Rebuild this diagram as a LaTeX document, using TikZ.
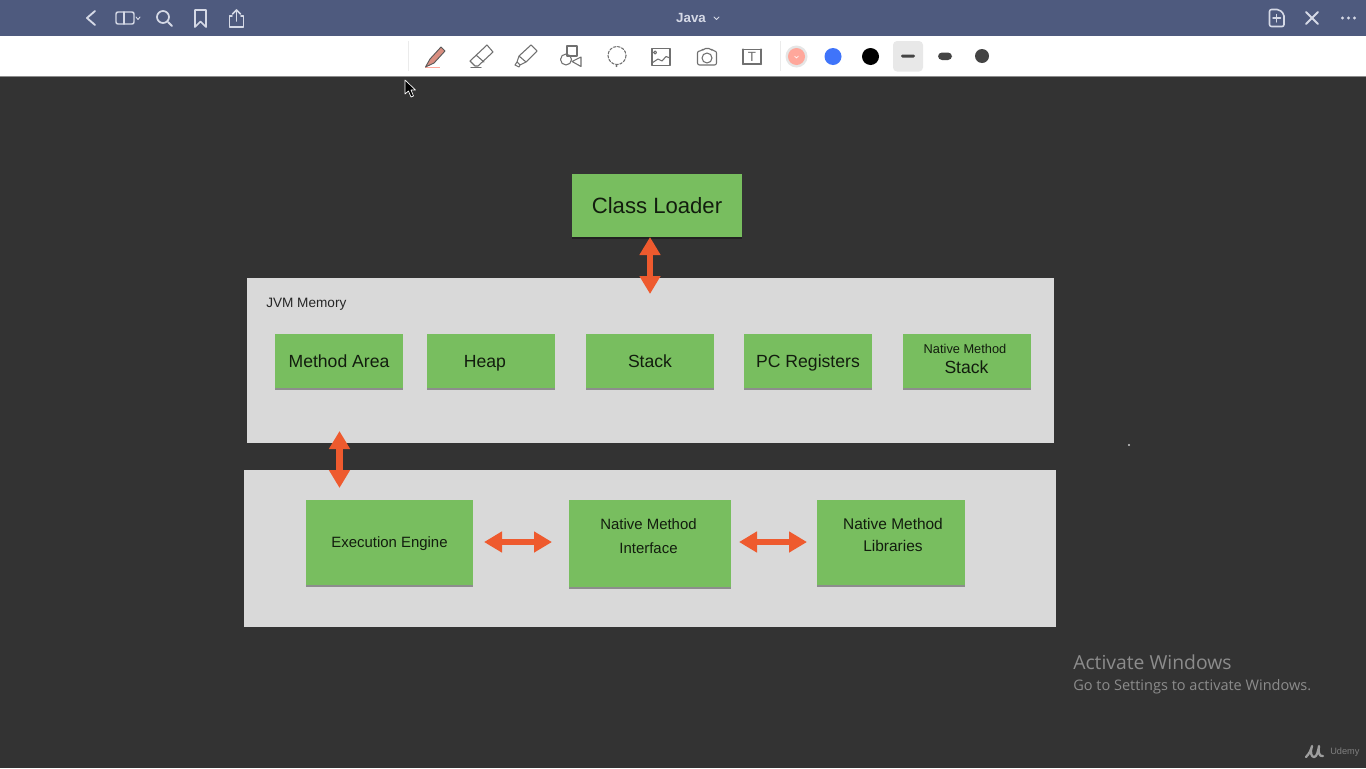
\documentclass[tikz,border=0pt]{standalone}
\usepackage{fontspec}
\setmainfont{Liberation Sans}
\newfontfamily\winfont{Open Sans}[Scale=1.0]
\usetikzlibrary{arrows.meta,shadows}
\definecolor{barblue}{HTML}{4E5A7E}
\definecolor{darkbg}{HTML}{333333}
\definecolor{panelgray}{HTML}{D9D9D9}
\definecolor{boxgreen}{HTML}{78BE5F}
\definecolor{arroworange}{HTML}{EE5A2E}
\definecolor{iconlight}{HTML}{D5D9E6}
\definecolor{icondark}{HTML}{707070}
\definecolor{wintext}{HTML}{8C8C8C}
\definecolor{swpink}{HTML}{FFA79B}
\definecolor{swblue}{HTML}{3F74FA}
\definecolor{swdark}{HTML}{444444}
\definecolor{penbody}{HTML}{D98E80}
\tikzset{
  x=0.75pt,y=-0.75pt,
  panel/.style={fill=panelgray,draw=none,inner sep=0pt,anchor=center},
  gbox/.style={fill=boxgreen,draw=none,inner sep=0pt,align=center,text=black!85!boxgreen,text depth=0pt,
    drop shadow={shadow xshift=0pt,shadow yshift=-1.4pt,opacity=.35,fill=black}},
  membox/.style={gbox,minimum width=96pt,minimum height=40.5pt,font=\fontsize{13.2pt}{15pt}\selectfont},
  lowbox/.style={gbox,minimum height=63.75pt,font=\fontsize{11.2pt}{18pt}\selectfont},
  twoway/.style={draw=arroworange,line width=4.8pt,
    {Triangle[length=13.5pt,width=15pt,fill=arroworange]}-{Triangle[length=13.5pt,width=15pt,fill=arroworange]},shorten >=0pt,shorten <=0pt},
  topicon/.style={draw=iconlight,line width=1.1pt,line cap=round,line join=round},
  toolicon/.style={draw=icondark,line width=0.8pt,line cap=round,line join=round},
  lbl/.style={inner sep=0pt,align=center,text=black!85!boxgreen},
  wintxt/.style={inner sep=0pt,anchor=west,text=wintext},
}
\begin{document}
\begin{tikzpicture}
\useasboundingbox (0,0) rectangle (1366,768);
\fill[darkbg] (0,0) rectangle (1366,768);
% top bars
\fill[barblue] (0,0) rectangle (1366,36);
\fill[white] (0,36) rectangle (1366,75.5);
\fill[black!45] (0,75.5) rectangle (1366,76.5);
% top bar icons
\draw[topicon,line width=1.4pt] (95,11) -- (87,18) -- (95,25);
\draw[topicon,rounded corners=1.5pt] (116,12) rectangle (134,24);
\draw[topicon] (124,12) -- (124,24);
\draw[topicon,line width=0.7pt] (136,17) -- (138,19.5) -- (140,17);
\draw[topicon,line width=1.3pt] (163,17) circle (6);
\draw[topicon,line width=1.4pt] (168,22) -- (172,26);
\draw[topicon,line width=1.3pt] (195,10) -- (206,10) -- (206,27) -- (200.5,21.5) -- (195,27) -- cycle;
\draw[topicon,line width=1.2pt] (232,16) -- (229.5,16) -- (229.5,27) -- (243.5,27) -- (243.5,16) -- (241,16);
\draw[topicon,line width=1.2pt] (236.5,21) -- (236.5,10);
\draw[topicon,line width=1.2pt] (232.5,14) -- (236.5,10) -- (240.5,14);
\node[inner sep=0pt,text=iconlight,font=\bfseries\fontsize{10pt}{12pt}\selectfont] (title) at (691,18) {Java};
\draw[topicon,line width=0.7pt] (714,17) -- (716.5,19.5) -- (719,17);
\draw[topicon,line width=1.2pt,rounded corners=1.5pt] (1269.5,9.5) -- (1279,9.5) -- (1284,14) -- (1284,26.5) -- (1269.5,26.5) -- cycle;
\draw[topicon] (1276.5,14.5) -- (1276.5,22) (1273,18.2) -- (1280.5,18.2);
\draw[topicon,line width=1.4pt] (1306,12) -- (1318,24) (1318,12) -- (1306,24);
\fill[iconlight] (1342.5,18) circle (1.7) (1348.5,18) circle (1.7) (1354.5,18) circle (1.7);
% toolbar
\draw[black!8,line width=.7pt] (408,41) -- (408,71) (780,41) -- (780,71);
\draw[swpink,line width=.7pt] (425,67.5) -- (440,67.5);
\draw[draw=black!65,fill=penbody,line width=.7pt,line join=round] (430,59) -- (441,47) -- (445,51) -- (434,63) -- (425.5,67) -- cycle;
% eraser
\draw[toolicon] (470,61) -- (487,45) -- (493,52) -- (478,66) -- (475,66) -- cycle (476,55) -- (484,62);
\draw[toolicon,line width=1pt] (471,67.5) -- (481,67.5);
% highlighter
\draw[toolicon] (531,45) -- (537,51) -- (526,62) -- (519,56) -- cycle (519,56) -- (517,62) -- (520,65) -- (526,62) (517,62) -- (515,65) -- (519,67) -- (520,65);
% shapes
\draw[toolicon] (567,46) rectangle (577,56);
\draw[toolicon] (566,59.5) circle (5.5);
\draw[toolicon] (581,57) -- (581,66.5) -- (572,61.5) -- cycle;
% lasso
\draw[toolicon,dash pattern=on 2pt off 1.2pt] (617,55.5) circle (9);
\fill[icondark] (616.5,66) circle (1.2);
% image
\draw[toolicon] (652,48.5) rectangle (670,65.5);
\draw[toolicon] (655,52.5) circle (1.5);
\draw[toolicon] (652,63) -- (658,59) -- (662,61) -- (666,56.5) -- (670,58);
% camera
\draw[toolicon,rounded corners=1.5pt] (697.5,51) -- (702,51) -- (703.5,48.5) -- (711,48.5) -- (712.5,51) -- (716.5,51) -- (716.5,65) -- (697.5,65) -- cycle;
\draw[toolicon] (707,58) circle (5);
% text box
\draw[toolicon] (743,49.5) rectangle (761,64);
\fill[icondark] (743,49.5) circle (1.2) (761,49.5) circle (1.2) (743,64) circle (1.2) (761,64) circle (1.2);
\node[inner sep=0pt,text=icondark,font=\fontsize{10pt}{12pt}\selectfont] (ttool) at (752,57) {T};
% swatches
\fill[black!10] (796.5,56.5) circle (11);
\fill[swpink] (796.5,56.5) circle (8.5);
\draw[white,line width=.5pt] (794.5,56) -- (796.5,58) -- (798.5,56);
\fill[swblue] (833,56.5) circle (8.5);
\fill[black] (870.5,56.5) circle (8.5);
\fill[black!9,rounded corners=3pt] (893,41) rectangle (923,71.5);
\fill[swdark,rounded corners=1pt] (901,54.5) rectangle (915,57.5);
\fill[swdark,rounded corners=3pt] (938,52.5) rectangle (952,60);
\fill[swdark] (982,56) circle (7);
% cursor
\draw[fill=black,draw=white,line width=.5pt,line join=round] (405,80) -- (405,94) -- (408.5,91) -- (411,97) -- (413.5,96) -- (411,90) -- (415.5,90) -- cycle;
% panels
\node[panel,minimum width=605.25pt,minimum height=123.75pt] (jvm) at (650.5,360.5) {};
\node[panel,minimum width=609pt,minimum height=117.75pt] (lower) at (650,548.5) {};
\node[inner sep=0pt,anchor=west,text=black!85,font=\fontsize{10.2pt}{12pt}\selectfont] (jvmlabel) at (266,304) {JVM Memory};
% boxes
\node[gbox,minimum width=127.5pt,minimum height=47.25pt,font=\fontsize{16.6pt}{20pt}\selectfont] (cl) at (657,205.5) {Class Loader};
\node[membox] (ma) at (339,361) {Method Area};
\node[membox] (heap) at (491,361) {Heap\hspace{9pt}};
\node[membox] (stack) at (650,361) {Stack};
\node[membox] (pc) at (808,361) {PC Registers};
\node[membox] (nms) at (967,361) {};
\node[lbl,font=\fontsize{9.6pt}{11pt}\selectfont] (nmsa) at (965,349) {Native Method};
\node[lbl,font=\fontsize{13.2pt}{15pt}\selectfont] (nmsb) at (966.5,367.5) {Stack};
\node[lowbox,minimum width=125.25pt] (ee) at (389.5,542.5) {Execution Engine};
\node[lowbox,minimum width=121.5pt,minimum height=65.25pt] (nmi) at (650,543.5) {};
\node[lbl,font=\fontsize{11.2pt}{18pt}\selectfont] (nmit) at (648.5,536.5) {Native Method\\Interface};
\node[lowbox,minimum width=111pt] (nml) at (891,542.5) {};
\node[lbl,font=\fontsize{11.6pt}{16.5pt}\selectfont] (nmlt) at (893,535) {Native Method\\Libraries};
% connector ends
\coordinate (a1) at (650,237);
\coordinate (a2) at (650,294);
\coordinate (b1) at (339.5,431);
\coordinate (b2) at (339.5,488);
\coordinate (c1) at (484,542);
\coordinate (c2) at (552,542);
\coordinate (d1) at (739,542);
\coordinate (d2) at (807,542);
\draw[twoway] (a1) -- (a2);
\draw[twoway] (b1) -- (b2);
\draw[twoway] (c1) -- (c2);
\draw[twoway] (d1) -- (d2);
% overlays
\fill[white!80!black] (1129,445) circle (1.1);
\node[wintxt,font=\winfont\fontsize{14.5pt}{18pt}\selectfont] (act1) at (1073,662) {Activate Windows};
\node[wintxt,font=\winfont\fontsize{10.9pt}{13pt}\selectfont] (act2) at (1073,686.5) {Go to Settings to activate Windows.};
\draw[black!38,line width=1.7pt,line cap=round,line join=round] (1306,757) .. controls (1309,754) and (1311,750) .. (1312,746) .. controls (1310,752) and (1311,757) .. (1314,757) .. controls (1317,757) and (1318,751) .. (1319,746) .. controls (1318,752) and (1319,757) .. (1323,756);
\node[inner sep=0pt,anchor=west,text=black!50,font=\fontsize{6.9pt}{9pt}\selectfont] (udemy) at (1330,752.5) {Udemy};
\end{tikzpicture}
\end{document}
